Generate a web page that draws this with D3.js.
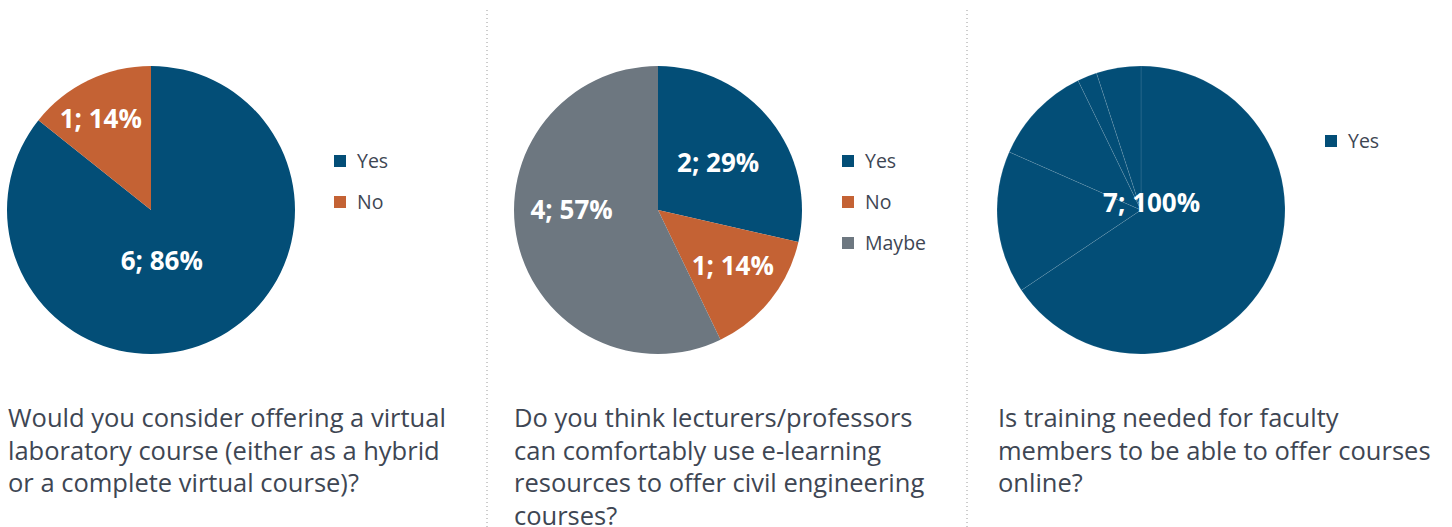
<!DOCTYPE html>
<html>
<head>
<meta charset="utf-8">
<script src="https://cdn.jsdelivr.net/npm/d3@7"></script>
<style>
  body { margin: 0; background: #fff; }
  svg { display: block; }
  text { font-family: "Open Sans", Lato, sans-serif; }
</style>
</head>
<body>
<div id="chart-area"></div>
<script>
// data
var q1Labels = ["Yes", "No"];
var q1Counts = [6, 1];
var q1Question = ["Would you consider offering a virtual", "laboratory course (either as a hybrid", "or a complete virtual course)?"];

var q2Labels = ["Yes", "No", "Maybe"];
var q2Counts = [2, 1, 4];
var q2Question = ["Do you think lecturers/professors", "can comfortably use e-learning", "resources to offer civil engineering", "courses?"];

var q3Labels = ["Yes"];
var q3Counts = [7];
// the single "Yes" slice shows faint seams; shares of each piece in %
var q3Pieces = [65.6, 16.0, 11.2, 2.2, 5.0];
var q3Question = ["Is training needed for faculty", "members to be able to offer courses", "online?"];

var W = 1452, H = 527;
var colorScale = d3.scaleOrdinal().domain(["Yes", "No", "Maybe"]).range(["#034e77", "#c46234", "#6d7780"]);
var textColor = "#3e4653";

var svg = d3.select("#chart-area").append("svg").attr("width", W).attr("height", H);

// panel layout
var panels = [
    { labels: q1Labels, counts: q1Counts, question: q1Question, cx: 151, legendX: 334, legendY: 161,
      labelPos: [[168, 0.36], [331, 0.72]] },
    { labels: q2Labels, counts: q2Counts, question: q2Question, cx: 658, legendX: 842, legendY: 161,
      labelPos: [[52, 0.53], [127, 0.65], [270, 0.6]] },
    { labels: q3Labels, counts: q3Counts, question: q3Question, cx: 1141, legendX: 1325, legendY: 141,
      labelPos: [[55, 0.09]], pieces: q3Pieces }
];
var radius = 144, cy = 210;
var textX = [8, 514, 998];

var pie = d3.pie().sort(null).value(d => d);
var arc = d3.arc().innerRadius(0).outerRadius(radius);

panels.forEach((p, pi) => {
    var g = svg.append("g").attr("transform", `translate(${p.cx},${cy})`);
    var total = d3.sum(p.counts);

    if (p.pieces) {
        g.selectAll("path.piece")
            .data(pie(p.pieces))
            .enter()
            .append("path")
            .attr("class", "piece")
            .attr("d", arc)
            .attr("fill", colorScale(p.labels[0]))
            .attr("stroke", "rgba(255,255,255,0.2)")
            .attr("stroke-width", 0.5);
    } else {
        g.selectAll("path.slice")
            .data(pie(p.counts))
            .enter()
            .append("path")
            .attr("class", "slice")
            .attr("d", arc)
            .attr("fill", (d, i) => colorScale(p.labels[i]));
    }

    p.counts.forEach((c, i) => {
        var a = p.labelPos[i][0] * Math.PI / 180, r = p.labelPos[i][1] * radius;
        g.append("text")
            .attr("x", Math.sin(a) * r)
            .attr("y", -Math.cos(a) * r)
            .attr("dy", "0.35em")
            .attr("text-anchor", "middle")
            .attr("fill", "#fff")
            .attr("font-weight", "bold")
            .attr("font-size", "26px")
            .text(`${c}; ${Math.round(c / total * 100)}%`);
    });

    var legend = svg.append("g").attr("transform", `translate(${p.legendX},${p.legendY})`);
    p.labels.forEach((lab, i) => {
        var item = legend.append("g").attr("transform", `translate(0, ${i * 41})`);
        item.append("rect").attr("x", 0).attr("y", -6).attr("width", 12).attr("height", 12).attr("fill", colorScale(lab));
        item.append("text").attr("x", 23).attr("y", 0).attr("dy", "0.35em")
            .attr("font-size", "19.5px").attr("fill", textColor).text(lab);
    });

    var q = svg.append("text").attr("x", textX[pi]).attr("y", 427)
        .attr("font-size", "25.5px").attr("fill", textColor);
    p.question.forEach((line, i) => {
        q.append("tspan").attr("x", textX[pi]).attr("dy", i === 0 ? 0 : 32.5).text(line);
    });
});

// dotted separators
[487, 967].forEach(x => {
    svg.append("line").attr("x1", x).attr("x2", x).attr("y1", 10).attr("y2", H)
        .attr("stroke", "#9a9a9a").attr("stroke-width", 1).attr("stroke-dasharray", "1,3");
});
</script>
</body>
</html>
